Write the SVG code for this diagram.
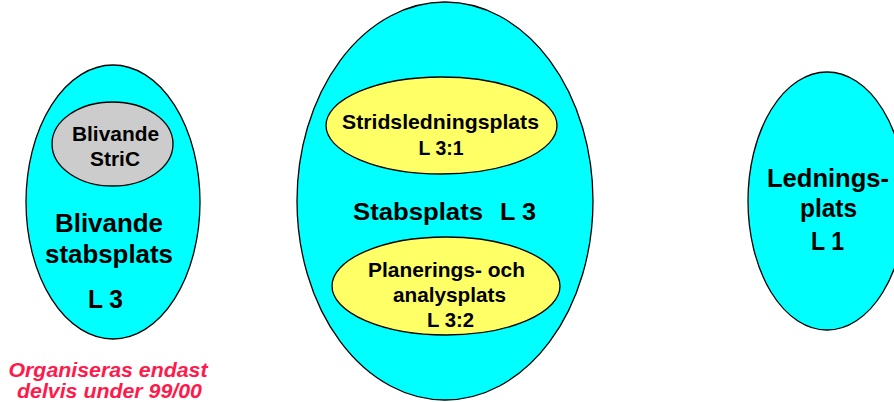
<svg xmlns="http://www.w3.org/2000/svg" width="894" height="402" viewBox="0 0 894 402">
<style>
.outer{fill:#00ffff;stroke:#000;stroke-width:1.3}
.yel{fill:#ffff66;stroke:#000;stroke-width:1.3}
.gray{fill:#cccccc;stroke:#000;stroke-width:1.3}
text{font-family:"Liberation Sans",Arial,sans-serif;font-weight:bold;fill:#000;text-anchor:middle}
.big{font-size:25px}
.mid{font-size:24px}
.sm{font-size:20.5px}
.note{font-size:20.5px;font-style:italic;fill:#ff1a4b}
</style>
<rect width="894" height="402" fill="#fff"/>
<g id="blivande-stabsplats">
<ellipse class="outer" cx="113" cy="202" rx="87" ry="137"/>
<text class="big" x="109" y="232" textLength="108" lengthAdjust="spacingAndGlyphs">Blivande</text>
<text class="big" x="109" y="263" textLength="128" lengthAdjust="spacingAndGlyphs">stabsplats</text>
<text class="big" x="105.5" y="308" textLength="35" lengthAdjust="spacingAndGlyphs">L 3</text>
</g>
<g id="blivande-stric">
<ellipse class="gray" cx="112.5" cy="144" rx="60.5" ry="42"/>
<text class="sm" x="115.5" y="141" textLength="87" lengthAdjust="spacingAndGlyphs">Blivande</text>
<text class="sm" x="115" y="166" textLength="50" lengthAdjust="spacingAndGlyphs">StriC</text>
</g>
<g id="stabsplats">
<ellipse class="outer" cx="445" cy="201" rx="148" ry="199"/>
<text class="mid" x="418" y="220" textLength="130" lengthAdjust="spacingAndGlyphs">Stabsplats</text>
<text class="mid" x="518" y="220" textLength="36" lengthAdjust="spacingAndGlyphs">L 3</text>
</g>
<g id="stridsledningsplats">
<ellipse class="yel" cx="441.5" cy="125.5" rx="115.5" ry="48.5"/>
<text class="sm" x="440.5" y="129" textLength="197" lengthAdjust="spacingAndGlyphs">Stridsledningsplats</text>
<text class="sm" x="441" y="155" textLength="45" lengthAdjust="spacingAndGlyphs">L 3:1</text>
</g>
<g id="planeringsplats">
<ellipse class="yel" cx="446" cy="286" rx="114" ry="49"/>
<text class="sm" x="446.5" y="277" textLength="157" lengthAdjust="spacingAndGlyphs">Planerings- och</text>
<text class="sm" x="449.5" y="302" textLength="113" lengthAdjust="spacingAndGlyphs">analysplats</text>
<text class="sm" x="450.5" y="327" textLength="47" lengthAdjust="spacingAndGlyphs">L 3:2</text>
</g>
<g id="ledningsplats">
<ellipse class="outer" cx="827" cy="201" rx="79" ry="129"/>
<text class="big" x="828" y="187" textLength="122" lengthAdjust="spacingAndGlyphs">Lednings-</text>
<text class="big" x="828.5" y="217" textLength="57" lengthAdjust="spacingAndGlyphs">plats</text>
<text class="big" x="827.5" y="250" textLength="33" lengthAdjust="spacingAndGlyphs">L 1</text>
</g>
<g id="note">
<text class="note" x="108" y="377" textLength="199" lengthAdjust="spacingAndGlyphs">Organiseras endast</text>
<text class="note" x="109.5" y="398" textLength="185" lengthAdjust="spacingAndGlyphs">delvis under 99/00</text>
</g>
<g id="connectors"></g>
</svg>
